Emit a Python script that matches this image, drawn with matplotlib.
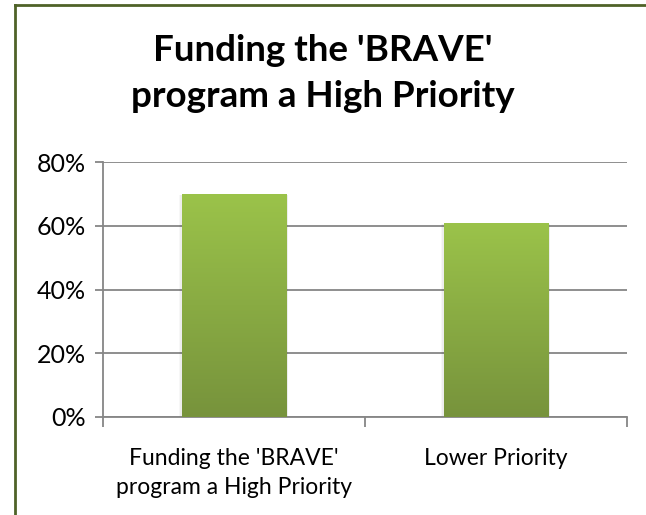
import matplotlib.pyplot as plt
import numpy as np
from matplotlib.colors import LinearSegmentedColormap
from matplotlib.lines import Line2D
from matplotlib.ticker import PercentFormatter

categories = ["Funding the 'BRAVE'\nprogram a High Priority", "Lower Priority"]
values = [70, 61]
yticks = [0, 20, 40, 60, 80]
title = "Funding the 'BRAVE'\nprogram a High Priority"

plt.rcParams["font.family"] = ["Lato", "DejaVu Sans"]

fig = plt.figure(figsize=(6.46, 5.15), dpi=100)
ax = fig.add_axes([0.1594, 0.1903, 0.8112, 0.4951])

x = np.arange(len(categories))
bars = ax.bar(x, values, width=0.4, color="none", edgecolor="none", zorder=3)

# vertical green gradient inside each bar, with a faint soft shadow
cmap = LinearSegmentedColormap.from_list("grn", ["#77933c", "#9bc34a"])
grad = np.linspace(0, 1, 256).reshape(-1, 1)
for b in bars:
    x0, y0 = b.get_x(), b.get_y()
    w, h = b.get_width(), b.get_height()
    for k, a in [(0.016, 0.03), (0.009, 0.04)]:
        ax.bar(x0 + w / 2, h + 0.3, width=w + k, bottom=-0.6, color="#000000",
               alpha=a, zorder=2, edgecolor="none")
    im = ax.imshow(grad, cmap=cmap, origin="lower", aspect="auto",
                   extent=[x0, x0 + w, y0, y0 + h], zorder=3)
    im.set_clip_path(b)

ax.set_xlim(-0.5, len(categories) - 0.5)
ax.set_ylim(0, 80)
ax.set_yticks(yticks)
ax.yaxis.set_major_formatter(PercentFormatter(decimals=0))
ax.set_xticks(x)
ax.set_xticklabels(categories, fontsize=16.5, linespacing=1.5)
ax.set_xticks(np.arange(-0.5, len(categories)), minor=True)
ax.tick_params(axis="x", which="major", length=0, pad=22)
ax.tick_params(axis="x", which="minor", length=7, width=1.3, color="#868686")
ax.tick_params(axis="y", length=6, width=1.3, color="#868686", labelsize=18, pad=6)

ax.grid(axis="y", color="#868686", linewidth=1.3, zorder=0)
ax.set_axisbelow(True)
for s in ["top", "right"]:
    ax.spines[s].set_visible(False)
for s in ["left", "bottom"]:
    ax.spines[s].set_color("#868686")
    ax.spines[s].set_linewidth(1.3)

fig.text(0.5, 0.857, title, ha="center", va="center", fontsize=26.5,
         fontweight="bold", linespacing=1.5)

# outer chart border (olive)
fig.add_artist(Line2D([15 / 646, 1], [1 - 5 / 515, 1 - 5 / 515], color="#4f6228",
                      linewidth=2, transform=fig.transFigure))
fig.add_artist(Line2D([15 / 646, 15 / 646], [0, 1 - 5 / 515], color="#4f6228",
                      linewidth=2, transform=fig.transFigure))

fig.savefig("out.png", dpi=100)
